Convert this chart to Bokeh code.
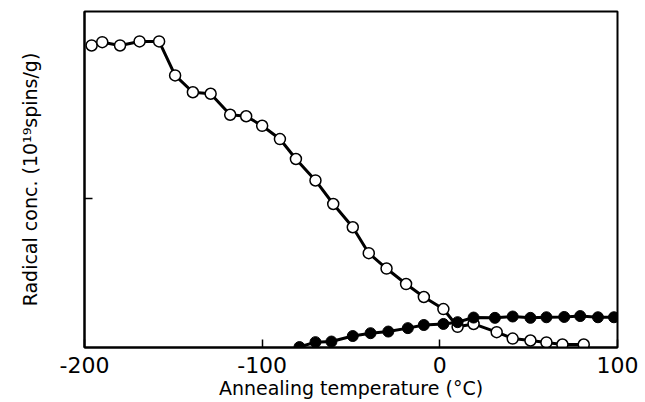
from bokeh.plotting import figure
from bokeh.models import Range1d, FixedTicker
from bokeh.embed import file_html
from bokeh.resources import INLINE

# Open circles: radical concentration vs annealing temperature
open_temp = [-196, -190, -180, -169, -158, -149, -139, -129, -118, -109, -100, -90,
             -81, -70, -60, -49, -40, -30, -19, -9, 2, 10, 19, 32, 41, 51, 60, 69, 81]
open_conc = [2.027, 2.049, 2.027, 2.054, 2.054, 1.826, 1.713, 1.703, 1.562, 1.552,
             1.488, 1.399, 1.265, 1.121, 0.963, 0.807, 0.633, 0.530, 0.426, 0.339,
             0.258, 0.139, 0.158, 0.103, 0.060, 0.047, 0.034, 0.020, 0.020]

# Filled circles
filled_temp = [-79, -70, -61, -49, -39, -29, -18, -9, 2, 10, 19, 31, 41, 51, 60, 70,
               79, 89, 98]
filled_conc = [0.003, 0.036, 0.040, 0.077, 0.096, 0.107, 0.130, 0.151, 0.158, 0.170,
               0.201, 0.199, 0.208, 0.199, 0.203, 0.205, 0.211, 0.203, 0.203]

x_ticks = [-200, -100, 0, 100]
x_tick_labels = ["-200", "-100", "0", "100"]
y_ticks = [1]
x_title = "Annealing temperature (°C)"
y_title = "Radical conc. (10¹⁹spins/g)"

FONT = "DejaVu Sans"

p = figure(width=645, height=402, output_backend="svg", toolbar_location=None,
           x_range=Range1d(-200, 100), y_range=Range1d(0, 2.255),
           min_border_left=84, min_border_right=28, min_border_top=11,
           min_border_bottom=55)

p.grid.visible = False
p.outline_line_color = "black"
p.outline_line_width = 2
p.background_fill_color = "white"
p.border_fill_color = "white"

# x axis
xa = p.xaxis[0]
xa.ticker = FixedTicker(ticks=x_ticks)
xa.major_label_overrides = {t: l for t, l in zip(x_ticks, x_tick_labels)}
xa.minor_tick_line_color = None
xa.major_tick_in = 8
xa.major_tick_out = 0
xa.major_tick_line_width = 1.5
xa.axis_line_width = 2
xa.major_label_text_font = FONT
xa.major_label_text_font_size = "22px"
xa.major_label_text_color = "black"
xa.major_label_standoff = 9
xa.axis_label = x_title
xa.axis_label_text_font = FONT
xa.axis_label_text_font_size = "19px"
xa.axis_label_text_font_style = "normal"
xa.axis_label_text_color = "black"
xa.axis_label_standoff = 1

# y axis
ya = p.yaxis[0]
ya.ticker = FixedTicker(ticks=y_ticks)
ya.major_label_overrides = {1: ""}
ya.major_label_text_font_size = "0px"
ya.minor_tick_line_color = None
ya.major_tick_in = 8
ya.major_tick_out = 0
ya.major_tick_line_width = 1.5
ya.axis_line_width = 2
ya.axis_label = y_title
ya.axis_label_text_font = FONT
ya.axis_label_text_font_size = "19px"
ya.axis_label_text_font_style = "normal"
ya.axis_label_text_color = "black"
ya.axis_label_standoff = 44

# open-circle series
p.line(open_temp, open_conc, line_color="black", line_width=3)
p.scatter(open_temp, open_conc, marker="circle", size=11, fill_color="white",
          line_color="black", line_width=1.5)

# filled-circle series
p.line(filled_temp, filled_conc, line_color="black", line_width=3)
p.scatter(filled_temp, filled_conc, marker="circle", size=11, fill_color="black",
          line_color="black", line_width=1)

open("out.html", "w").write(file_html(p, INLINE))
